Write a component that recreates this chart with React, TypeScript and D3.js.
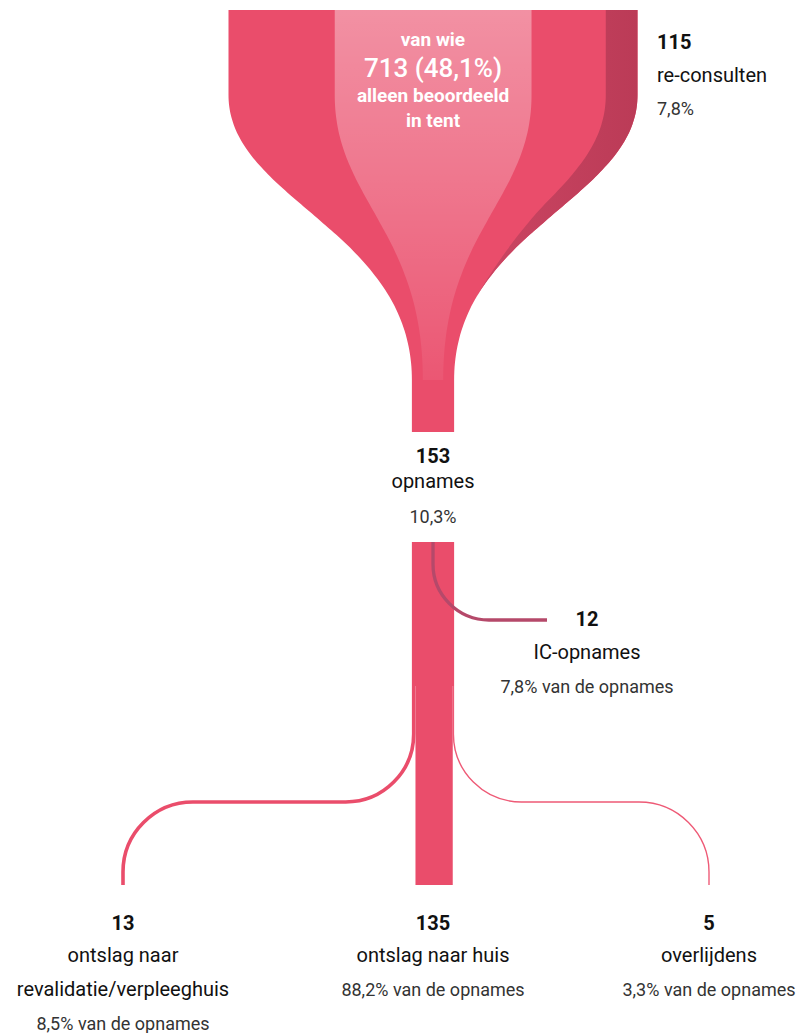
import React from 'react';
import * as d3 from 'd3';

// patient flow, values
const totalPatients = 1482;
const funnelGroups = ['overig', 'alleen beoordeeld in tent', 'overig', 're-consulten'];
const funnelValues = [385, 713, 269, 115];
const admissions = 153;
const icAdmissions = 12;
const outcomeKeys = ['revalidatie', 'huis', 'overlijden'];
const outcomeValues = [13, 135, 5];
const outcomeLabels = [['ontslag naar', 'revalidatie/verpleeghuis'], ['ontslag naar huis'], ['overlijdens']];
const outcomePercents = ['8,5% van de opnames', '88,2% van de opnames', '3,3% van de opnames'];
const tentLines = ['van wie', '713 (48,1%)', 'alleen beoordeeld', 'in tent'];
const reconsultLines = ['115', 're-consulten', '7,8%'];
const admissionLines = ['153', 'opnames', '10,3%'];
const icLines = ['12', 'IC-opnames', '7,8% van de opnames'];

const W = 799;
const H = 1033;
const cx = 433;
const font = 'Roboto, sans-serif';
const pink = '#ea4d6b';

const wScale = d3.scaleLinear().domain([0, totalPatients]).range([0, 409]);
const outX = d3.scaleOrdinal<string, number>().domain(outcomeKeys).range([123, 433, 709]);

const Y = { top: 10, bendStart: 95, bendEnd: 380, tentEnd: 387, stemEnd: 432, barTop: 542, icTurn: 620, split: 686, turn: 802, barEnd: 885 };

const bez = (a: number, b: number, c: number, d: number, s: number) =>
  (1 - s) ** 3 * a + 3 * s * (1 - s) ** 2 * b + 3 * s * s * (1 - s) * c + s ** 3 * d;

type P = { y: number; f: number };
// funnel narrowing profile: f = 0 all patients, f = 1 only admissions left
const profile: P[] = [{ y: Y.top, f: 0 }];
d3.range(0, 1.0001, 0.02).forEach(s => {
  profile.push({ y: bez(Y.bendStart, 200, 230, Y.bendEnd, s), f: bez(0, 0, 1, 1, s) });
});
profile.push({ y: Y.stemEnd, f: 1 });

const cum = [0, ...d3.cumsum(funnelValues)];
const widthAt = (d: P) => wScale(totalPatients + (admissions - totalPatients) * d.f);
const xAt = (d: P, c: number) => cx - widthAt(d) / 2 + (widthAt(d) * c) / totalPatients;

const stripValue = (d: P) => {
  const t = Math.max(0, Math.min(1, (d.y - 200) / (305 - 200)));
  return funnelValues[3] * (1 - d3.easeSinInOut(t));
};

export default function App() {
  const area = d3.area<P>().y(d => d.y).curve(d3.curveMonotoneY);

  const basePath = area.x0(d => xAt(d, 0)).x1(d => xAt(d, totalPatients))(profile) || '';
  const tentPts = profile.filter(d => d.y <= Y.tentEnd);
  const tentPath = d3.area<P>().y(d => d.y).curve(d3.curveMonotoneY)
    .x0(d => xAt(d, cum[1])).x1(d => xAt(d, cum[2]))(tentPts) || '';
  const stripPts = profile.filter(d => d.y <= 310);
  const stripPath = d3.area<P>().y(d => d.y).curve(d3.curveMonotoneY)
    .x0(d => xAt(d, totalPatients) - (widthAt(d) * stripValue(d)) / totalPatients)
    .x1(d => xAt(d, totalPatients))(stripPts) || '';

  const barLeft = cx - wScale(admissions) / 2;
  const icEnd = 547;
  const ic = d3.path();
  ic.moveTo(cx, Y.barTop);
  ic.arcTo(cx, Y.icTurn, cx + 1, Y.icTurn, 56);
  ic.lineTo(icEnd, Y.icTurn);

  const lx = barLeft + wScale(outcomeValues[0]) / 2;
  const left = d3.path();
  left.moveTo(lx, Y.split);
  left.arcTo(lx, Y.turn, lx - 1, Y.turn, 68);
  left.arcTo(outX(outcomeKeys[0]), Y.turn, outX(outcomeKeys[0]), Y.barEnd, 70);
  left.lineTo(outX(outcomeKeys[0]), Y.barEnd);

  const rx = barLeft + wScale(outcomeValues[0]) + wScale(outcomeValues[1]) + wScale(outcomeValues[2]) / 2;
  const right = d3.path();
  right.moveTo(rx, Y.split);
  right.arcTo(rx, Y.turn, rx + 1, Y.turn, 68);
  right.arcTo(outX(outcomeKeys[2]), Y.turn, outX(outcomeKeys[2]), Y.barEnd, 70);
  right.lineTo(outX(outcomeKeys[2]), Y.barEnd);

  const numStyle = { fontFamily: font, fontWeight: 700, fontSize: 20, fill: '#111' };
  const labStyle = { fontFamily: font, fontWeight: 400, fontSize: 20, fill: '#111' };
  const pctStyle = { fontFamily: font, fontWeight: 400, fontSize: 18, fill: '#333' };

  return (
    <svg width={W} height={H} style={{ position: 'absolute', left: 0, top: 0, background: '#fff' }}>
      <defs>
        <linearGradient id="tentGrad" gradientUnits="userSpaceOnUse" x1="0" y1={Y.top} x2="0" y2={Y.tentEnd}>
          <stop offset="0" stopColor="#fff" stopOpacity={0.38} />
          <stop offset="0.5" stopColor="#fff" stopOpacity={0.22} />
          <stop offset="1" stopColor="#fff" stopOpacity={0.05} />
        </linearGradient>
        <linearGradient id="stripGrad" x1="0" y1="0" x2="1" y2="0">
          <stop offset="0" stopColor="#cc4663" />
          <stop offset="1" stopColor="#bb3b57" />
        </linearGradient>
      </defs>

      <path d={basePath} fill={pink} />
      <path d={tentPath} fill="url(#tentGrad)" />
      <path d={stripPath} fill="url(#stripGrad)" />

      <g textAnchor="middle" fill="#fff" fontFamily={font}>
        <text x={cx} y={46} fontSize={19} fontWeight={700}>{tentLines[0]}</text>
        <text x={cx} y={77} fontSize={26} fontWeight={500}>{tentLines[1]}</text>
        <text x={cx} y={102} fontSize={19} fontWeight={700}>{tentLines[2]}</text>
        <text x={cx} y={127} fontSize={19} fontWeight={700}>{tentLines[3]}</text>
      </g>

      <g>
        <text x={657} y={49} style={numStyle}>{reconsultLines[0]}</text>
        <text x={657} y={82} style={labStyle}>{reconsultLines[1]}</text>
        <text x={657} y={115} style={pctStyle}>{reconsultLines[2]}</text>
      </g>

      <g textAnchor="middle">
        <text x={cx} y={463} style={numStyle}>{admissionLines[0]}</text>
        <text x={cx} y={488} style={labStyle}>{admissionLines[1]}</text>
        <text x={cx} y={523} style={pctStyle}>{admissionLines[2]}</text>
      </g>

      <rect x={barLeft} y={Y.barTop} width={wScale(admissions)} height={Y.split - Y.barTop} fill={pink} />
      <rect x={barLeft + wScale(outcomeValues[0])} y={Y.split} width={wScale(outcomeValues[1])} height={Y.barEnd - Y.split} fill={pink} />
      <path d={ic.toString()} fill="none" stroke="#b5496a" strokeWidth={wScale(icAdmissions)} />
      <path d={left.toString()} fill="none" stroke={pink} strokeWidth={wScale(outcomeValues[0])} />
      <path d={right.toString()} fill="none" stroke="#ee5a76" strokeWidth={wScale(outcomeValues[2])} />

      <g textAnchor="middle">
        <text x={587} y={626} style={numStyle}>{icLines[0]}</text>
        <text x={587} y={659} style={labStyle}>{icLines[1]}</text>
        <text x={587} y={693} style={pctStyle}>{icLines[2]}</text>
      </g>

      {outcomeKeys.map((k, i) => {
        const x = outX(k);
        const labs = outcomeLabels[i];
        return (
          <g key={k} textAnchor="middle">
            <text x={x} y={930} style={numStyle}>{outcomeValues[i]}</text>
            {labs.map((l, j) => (
              <text key={j} x={x} y={962 + j * 34} style={labStyle}>{l}</text>
            ))}
            <text x={x} y={962 + labs.length * 34} style={pctStyle}>{outcomePercents[i]}</text>
          </g>
        );
      })}
    </svg>
  );
}
